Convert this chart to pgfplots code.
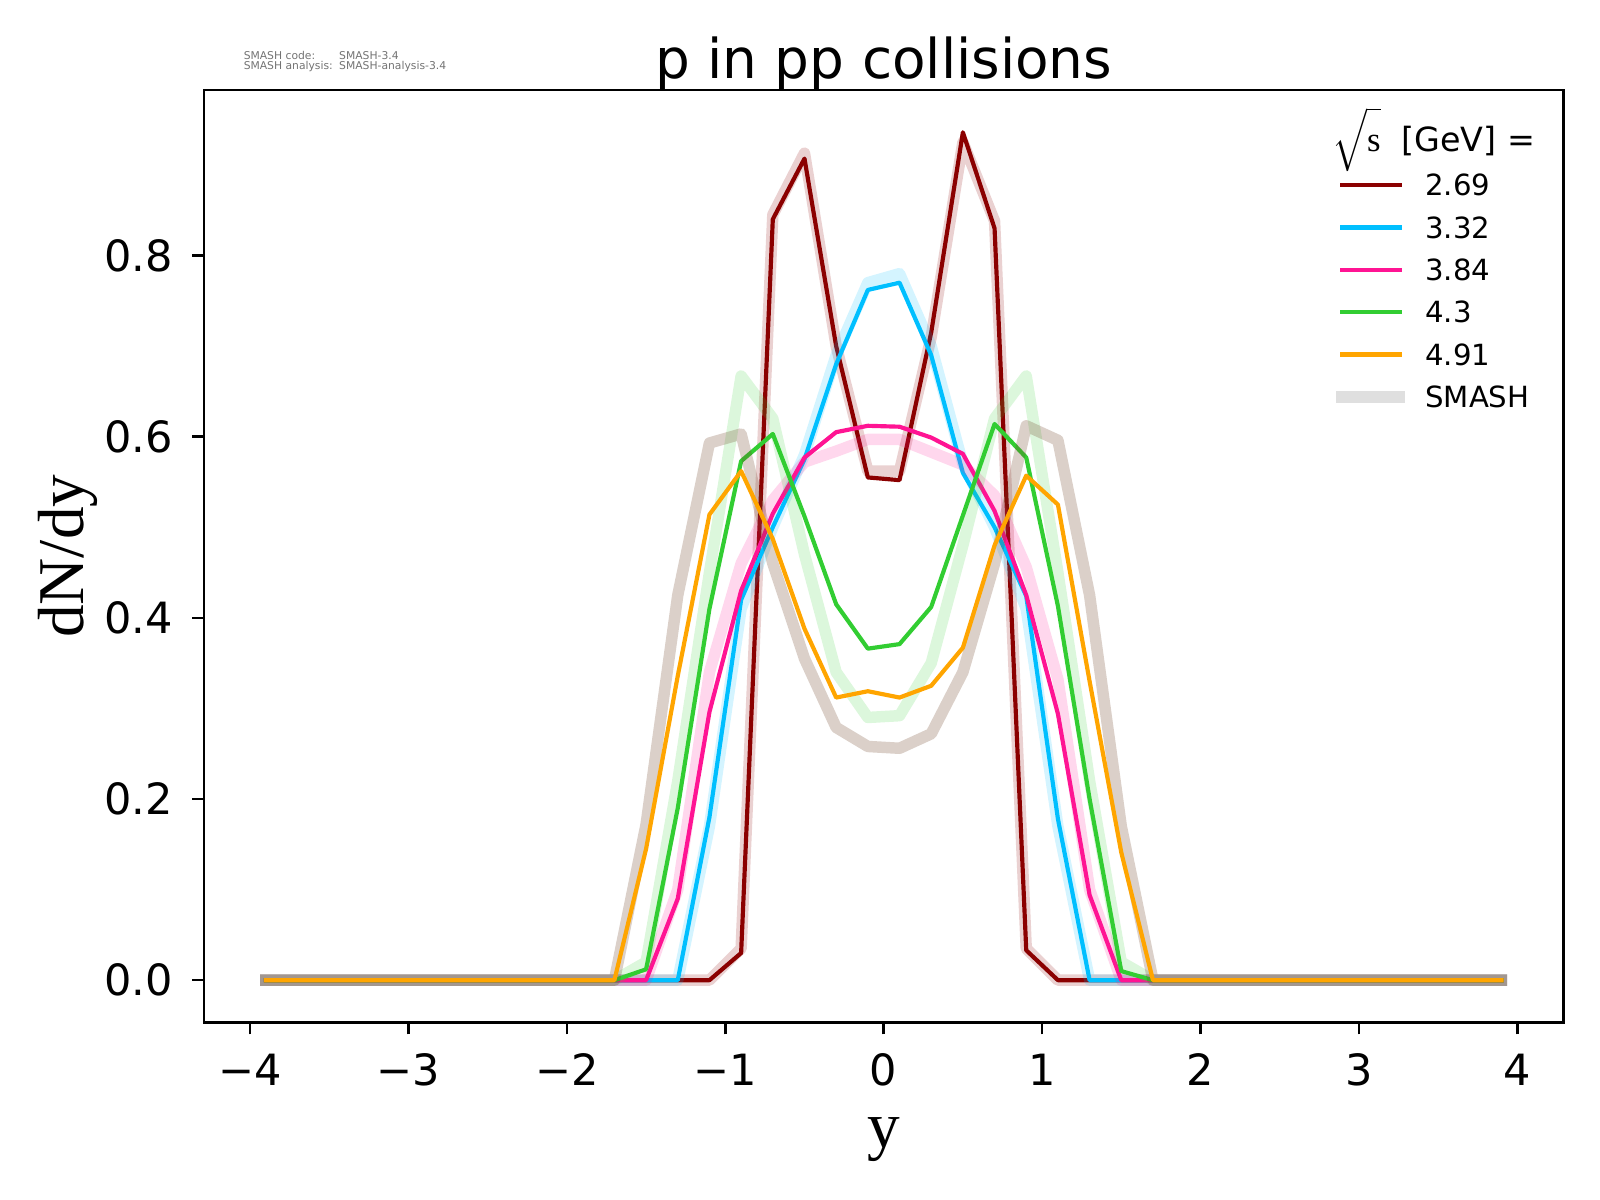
\documentclass[border=0pt]{standalone}
\usepackage{fontspec}
\setmainfont{DejaVu Sans}
\newfontfamily\serif{Liberation Serif}
\usepackage{pgfplots}
\pgfplotsset{compat=1.18}
\usepackage{pgfplotstable}
\definecolor{c1}{HTML}{8B0000}
\definecolor{c2}{HTML}{00BFFF}
\definecolor{c3}{HTML}{FF1493}
\definecolor{c4}{HTML}{32CD32}
\definecolor{c5}{HTML}{FFA500}
\definecolor{c5b}{RGB}{111,67,39}
\definecolor{smashgray}{HTML}{808080}

\pgfplotstableread{
x a b c d e
-3.9 0 0 0 0 0
-3.7 0 0 0 0 0
-3.5 0 0 0 0 0
-3.3 0 0 0 0 0
-3.1 0 0 0 0 0
-2.9 0 0 0 0 0
-2.7 0 0 0 0 0
-2.5 0 0 0 0 0
-2.3 0 0 0 0 0
-2.1 0 0 0 0 0
-1.9 0 0 0 0 0
-1.7 0 0 0 0 0
-1.5 0 0 0 0.012 0.145
-1.3 0 0 0.090 0.190 0.336
-1.1 0 0.180 0.296 0.410 0.514
-0.9 0.030 0.420 0.430 0.573 0.562
-0.7 0.840 0.500 0.515 0.603 0.487
-0.5 0.907 0.575 0.577 0.512 0.388
-0.3 0.700 0.680 0.605 0.415 0.312
-0.1 0.555 0.762 0.612 0.366 0.319
0.1 0.552 0.770 0.611 0.371 0.312
0.3 0.715 0.690 0.599 0.412 0.325
0.5 0.936 0.560 0.581 0.513 0.367
0.7 0.830 0.500 0.518 0.614 0.480
0.9 0.033 0.424 0.425 0.577 0.557
1.1 0 0.178 0.294 0.413 0.525
1.3 0 0 0.094 0.200 0.330
1.5 0 0 0 0.010 0.141
1.7 0 0 0 0 0
1.9 0 0 0 0 0
2.1 0 0 0 0 0
2.3 0 0 0 0 0
2.5 0 0 0 0 0
2.7 0 0 0 0 0
2.9 0 0 0 0 0
3.1 0 0 0 0 0
3.3 0 0 0 0 0
3.5 0 0 0 0 0
3.7 0 0 0 0 0
3.9 0 0 0 0 0
}\linedata

\pgfplotstableread{
x a b c d e
-3.9 0 0 0 0 0
-3.7 0 0 0 0 0
-3.5 0 0 0 0 0
-3.3 0 0 0 0 0
-3.1 0 0 0 0 0
-2.9 0 0 0 0 0
-2.7 0 0 0 0 0
-2.5 0 0 0 0 0
-2.3 0 0 0 0 0
-2.1 0 0 0 0 0
-1.9 0 0 0 0 0
-1.7 0 0 0 0 0
-1.5 0 0 0 0.020 0.172
-1.3 0 0 0.100 0.220 0.425
-1.1 0 0.170 0.340 0.450 0.593
-0.9 0.035 0.410 0.460 0.667 0.603
-0.7 0.845 0.500 0.530 0.620 0.460
-0.5 0.913 0.580 0.572 0.470 0.355
-0.3 0.700 0.690 0.584 0.340 0.279
-0.1 0.562 0.770 0.597 0.290 0.258
0.1 0.562 0.780 0.597 0.292 0.256
0.3 0.710 0.700 0.583 0.350 0.272
0.5 0.925 0.570 0.569 0.480 0.340
0.7 0.838 0.500 0.535 0.620 0.460
0.9 0.035 0.410 0.456 0.667 0.612
1.1 0 0.170 0.332 0.450 0.596
1.3 0 0 0.100 0.220 0.425
1.5 0 0 0 0.020 0.170
1.7 0 0 0 0 0
1.9 0 0 0 0 0
2.1 0 0 0 0 0
2.3 0 0 0 0 0
2.5 0 0 0 0 0
2.7 0 0 0 0 0
2.9 0 0 0 0 0
3.1 0 0 0 0 0
3.3 0 0 0 0 0
3.5 0 0 0 0 0
3.7 0 0 0 0 0
3.9 0 0 0 0 0
}\smashdata

\begin{document}
\begin{tikzpicture}
\path[use as bounding box] (0,0) rectangle (460.8pt,345.6pt);
\begin{axis}[
  at={(58.8pt,51.1pt)}, anchor=south west,
  scale only axis, width=391.4pt, height=268.6pt,
  xmin=-4.29, xmax=4.29, ymin=-0.0468, ymax=0.9828,
  xtick={-4,-3,-2,-1,0,1,2,3,4},
  xticklabels={−4,−3,−2,−1,0,1,2,3,4},
  ytick={0,0.2,0.4,0.6,0.8},
  yticklabels={0.0,0.2,0.4,0.6,0.8},
  tick pos=left, tick align=outside, major tick length=3.4pt,
  minor tick num=0,
  tick style={black, line width=0.75pt},
  axis line style={line width=0.75pt},
  ticklabel style={font=\fontsize{12.4}{14}\selectfont, inner sep=0pt, text height=9.04pt, text depth=0pt},
  xticklabel style={anchor=north, yshift=-5.5pt},
  yticklabel style={anchor=east, xshift=-5.4pt},
  title={p in pp collisions},
  every axis title/.style={at={(axis description cs:0.5,1.0118)}, anchor=base, font=\fontsize{15.8}{18}\selectfont, inner sep=0pt},
  xlabel={y}, ylabel={dN/dy},
  every axis x label/.style={at={(axis description cs:0.5,-0.1338)}, anchor=base, font=\serif\fontsize{18.8}{20}\selectfont, inner sep=0pt},
  every axis y label/.style={at={(axis description cs:-0.0887,0.5)}, rotate=90, anchor=base, font=\serif\fontsize{18.8}{20}\selectfont, inner sep=0pt},
  legend style={
    at={(axis description cs:0.8329,0.9095)}, anchor=north west,
    draw=none, fill=none, inner sep=0pt, outer sep=0pt,
    row sep=4.2pt, column sep=5.8pt,
    font=\fontsize{8.4}{10}\selectfont,
    cells={anchor=base west},
    nodes={inner sep=0pt, text height=6.2pt, text depth=1.8pt},
  },
  legend image code/.code={\draw[#1, line cap=rect] (0.6pt,3.1pt) -- (17.2pt,3.1pt);},
  band/.style={line width=3.3pt, line join=round, line cap=rect, forget plot},
  main/.style={line width=1.2pt, line join=round, line cap=rect},
]
\addplot[band, c1, draw opacity=0.18] table[x=x, y=a] {\smashdata};
\addplot[main, c1] table[x=x, y=a] {\linedata};
\addlegendentry{2.69}
\addplot[band, c2, draw opacity=0.17] table[x=x, y=b] {\smashdata};
\addplot[main, c2] table[x=x, y=b] {\linedata};
\addlegendentry{3.32}
\addplot[band, c3, draw opacity=0.17] table[x=x, y=c] {\smashdata};
\addplot[main, c3] table[x=x, y=c] {\linedata};
\addlegendentry{3.84}
\addplot[band, c4, draw opacity=0.17] table[x=x, y=d] {\smashdata};
\addplot[main, c4] table[x=x, y=d] {\linedata};
\addlegendentry{4.3}
\addplot[band, c5b, draw opacity=0.25] table[x=x, y=e] {\smashdata};
\addplot[main, c5] table[x=x, y=e] {\linedata};
\addlegendentry{4.91}
\addlegendimage{smashgray, draw opacity=0.25, line width=3.3pt}
\addlegendentry{SMASH}
\node[anchor=base west, inner sep=0pt, font=\fontsize{9.6}{11}\selectfont] at (axis description cs:0.8297,0.9336) {{\fontsize{11.5}{13}\selectfont$\sqrt{\mathstrut\hbox{\serif\fontsize{10}{12}\selectfont s}}$}\hspace{6pt}[GeV] =};
\end{axis}
\begin{scope}[every node/.style={anchor=base west, inner sep=0pt, font=\fontsize{3.1}{3.7}\selectfont, text=black!55}]
\node at (70pt,328.5pt) {SMASH code:};
\node at (97.5pt,328.5pt) {SMASH-3.4};
\node at (70pt,325.6pt) {SMASH analysis:};
\node at (97.5pt,325.6pt) {SMASH-analysis-3.4};
\end{scope}
\end{tikzpicture}
\end{document}
